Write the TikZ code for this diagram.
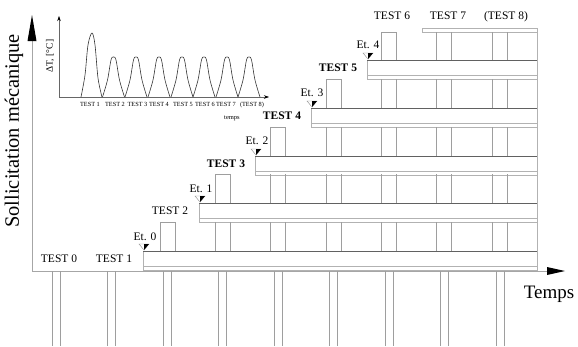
\documentclass[tikz,border=0pt]{standalone}
\usepackage{fontspec}
\setmainfont{Liberation Serif}
\usetikzlibrary{arrows.meta}
\tikzset{
  bandtop/.style={draw=black!62, line width=0.8pt},
  bandline/.style={draw=black!30, line width=0.6pt},
  rod/.style={draw=black!38, line width=0.6pt},
  axisline/.style={draw=black!35, line width=0.6pt},
  lbl/.style={font=\fontsize{11.5}{12}\selectfont, inner sep=0pt, anchor=base},
  blbl/.style={lbl, font=\fontsize{11.5}{12}\selectfont\bfseries},
  tiny/.style={font=\fontsize{6.3}{7}\selectfont, inner sep=0pt, anchor=base},
  curve/.style={draw=black!80, line width=0.6pt}
}
\begin{document}
\begin{tikzpicture}[x=1pt,y=-1pt]
\useasboundingbox (0,0) rectangle (578,346);

% main axes
\coordinate (O) at (32,271);
\coordinate (Ytip) at (32,41);
\coordinate (Xtip) at (547,271);
\draw[axisline] (Ytip) -- (O) -- (Xtip);
\fill[black] (27.5,41) -- (36.5,41) -- (32,15) -- cycle;
\fill[black] (547,267) -- (565,271) -- (547,275) -- cycle;

% bands
\foreach \lx/\t in {143/251,199/203,255/156,311/108,367/60} {
  \draw[bandline] (\lx,\t+15) -- (537,\t+15);
  \draw[bandline] (\lx,\t+19) -- (537,\t+19);
  \draw[bandline] (\lx,\t) -- (\lx,\t+19);
  \draw[bandtop] (\lx,\t) -- (537,\t);
}
\draw[bandline] (143,270) -- (143,271);
\draw[bandline] (422,32) -- (422,28) -- (537,28);
\draw[bandline] (422,32) -- (537,32);
\draw[bandline] (537,28) -- (537,271);

% rods between bands
\foreach \k/\bot/\top in {0/251/222, 1/203/174, 2/156/127, 3/108/79, 4/60/32} {
  \foreach \j in {\k,...,6} {
    \pgfmathsetmacro{\L}{160+55.33*\j}
    \draw[rod] (\L,\bot) -- (\L,\top) (\L+15,\bot) -- (\L+15,\top);
  }
  \pgfmathsetmacro{\L}{160+55.33*\k}
  \draw[rod] (\L,\top) -- (\L+15,\top);
}

% rods below the base
\foreach \i in {0,...,8} {
  \pgfmathsetmacro{\L}{52+55.5*\i}
  \draw[rod] (\L,271) -- (\L,346) (\L+8,271) -- (\L+8,346);
}

% level markers
\foreach \x/\y in {143/251,199/203,255/156,311/108,367/60} {
  \draw[black!45, line width=0.4pt] (\x-4,\y-7) -- (\x+6,\y-7) -- (\x+1,\y-1) -- cycle;
  \fill[black] (\x+1,\y-7) -- (\x+6,\y-7) -- (\x+1,\y-1) -- cycle;
}

% labels
\node[lbl] (t0) at (59,262) {TEST 0};
\node[lbl] (t1) at (114,262) {TEST 1};
\node[lbl] (e0) at (145,240) {Et. 0};
\node[lbl] (t2) at (170,214) {TEST 2};
\node[lbl] (e1) at (201,192) {Et. 1};
\node[blbl] (t3) at (226,167) {TEST 3};
\node[lbl] (e2) at (257,144) {Et. 2};
\node[blbl] (t4) at (282,119) {TEST 4};
\node[lbl] (e3) at (312,96) {Et. 3};
\node[blbl] (t5) at (338,71) {TEST 5};
\node[lbl] (e4) at (368,48) {Et. 4};
\node[lbl] (t6) at (392,19) {TEST 6};
\node[lbl] (t7) at (448,19) {TEST 7};
\node[lbl] (t8) at (506,19) {(TEST 8)};

\node[rotate=90, inner sep=0pt, font=\fontsize{20.4}{22}\selectfont] (ylab) at (14,131) {Sollicitation mécanique};
\node[inner sep=0pt, font=\fontsize{19}{20}\selectfont, anchor=base] (xlab) at (549,298) {Temps};

% inset graph
\coordinate (o2) at (59,97);
\draw[black!60, line width=0.5pt, -{Stealth[length=5pt,width=3.5pt,black]}] (o2) -- (59,16);
\draw[black!60, line width=0.5pt, -{Stealth[length=5pt,width=3.5pt,black]}] (o2) -- (269,97);
\node[rotate=90, inner sep=0pt, font=\fontsize{9.5}{10}\selectfont] (dT) at (50,56) {ΔT, [°C]};

\draw[curve] plot[smooth, tension=0.55] coordinates {(81,97) (85,75) (88,45) (92,33) (95,45) (98,78) (102,97)};
\foreach \c in {113.5,136,159,182,204,227,249} {
  \draw[curve] plot[smooth, tension=0.55] coordinates {({\c-11},97) ({\c-6},80) ({\c-2.5},60) (\c,57) ({\c+2.5},60) ({\c+6},80) ({\c+11},97)};
}

\node[tiny] (i1) at (90,106) {TEST 1};
\node[tiny] (i2) at (115,106) {TEST 2};
\node[tiny] (i3) at (137.5,106) {TEST 3};
\node[tiny] (i4) at (159,106) {TEST 4};
\node[tiny] (i5) at (183,106) {TEST 5};
\node[tiny] (i6) at (205,106) {TEST 6};
\node[tiny] (i7) at (226,106) {TEST 7};
\node[tiny] (i8) at (252,106) {(TEST 8)};
\node[tiny, font=\fontsize{6.5}{7}\selectfont] (tp) at (232,119) {temps};
\end{tikzpicture}
\end{document}
